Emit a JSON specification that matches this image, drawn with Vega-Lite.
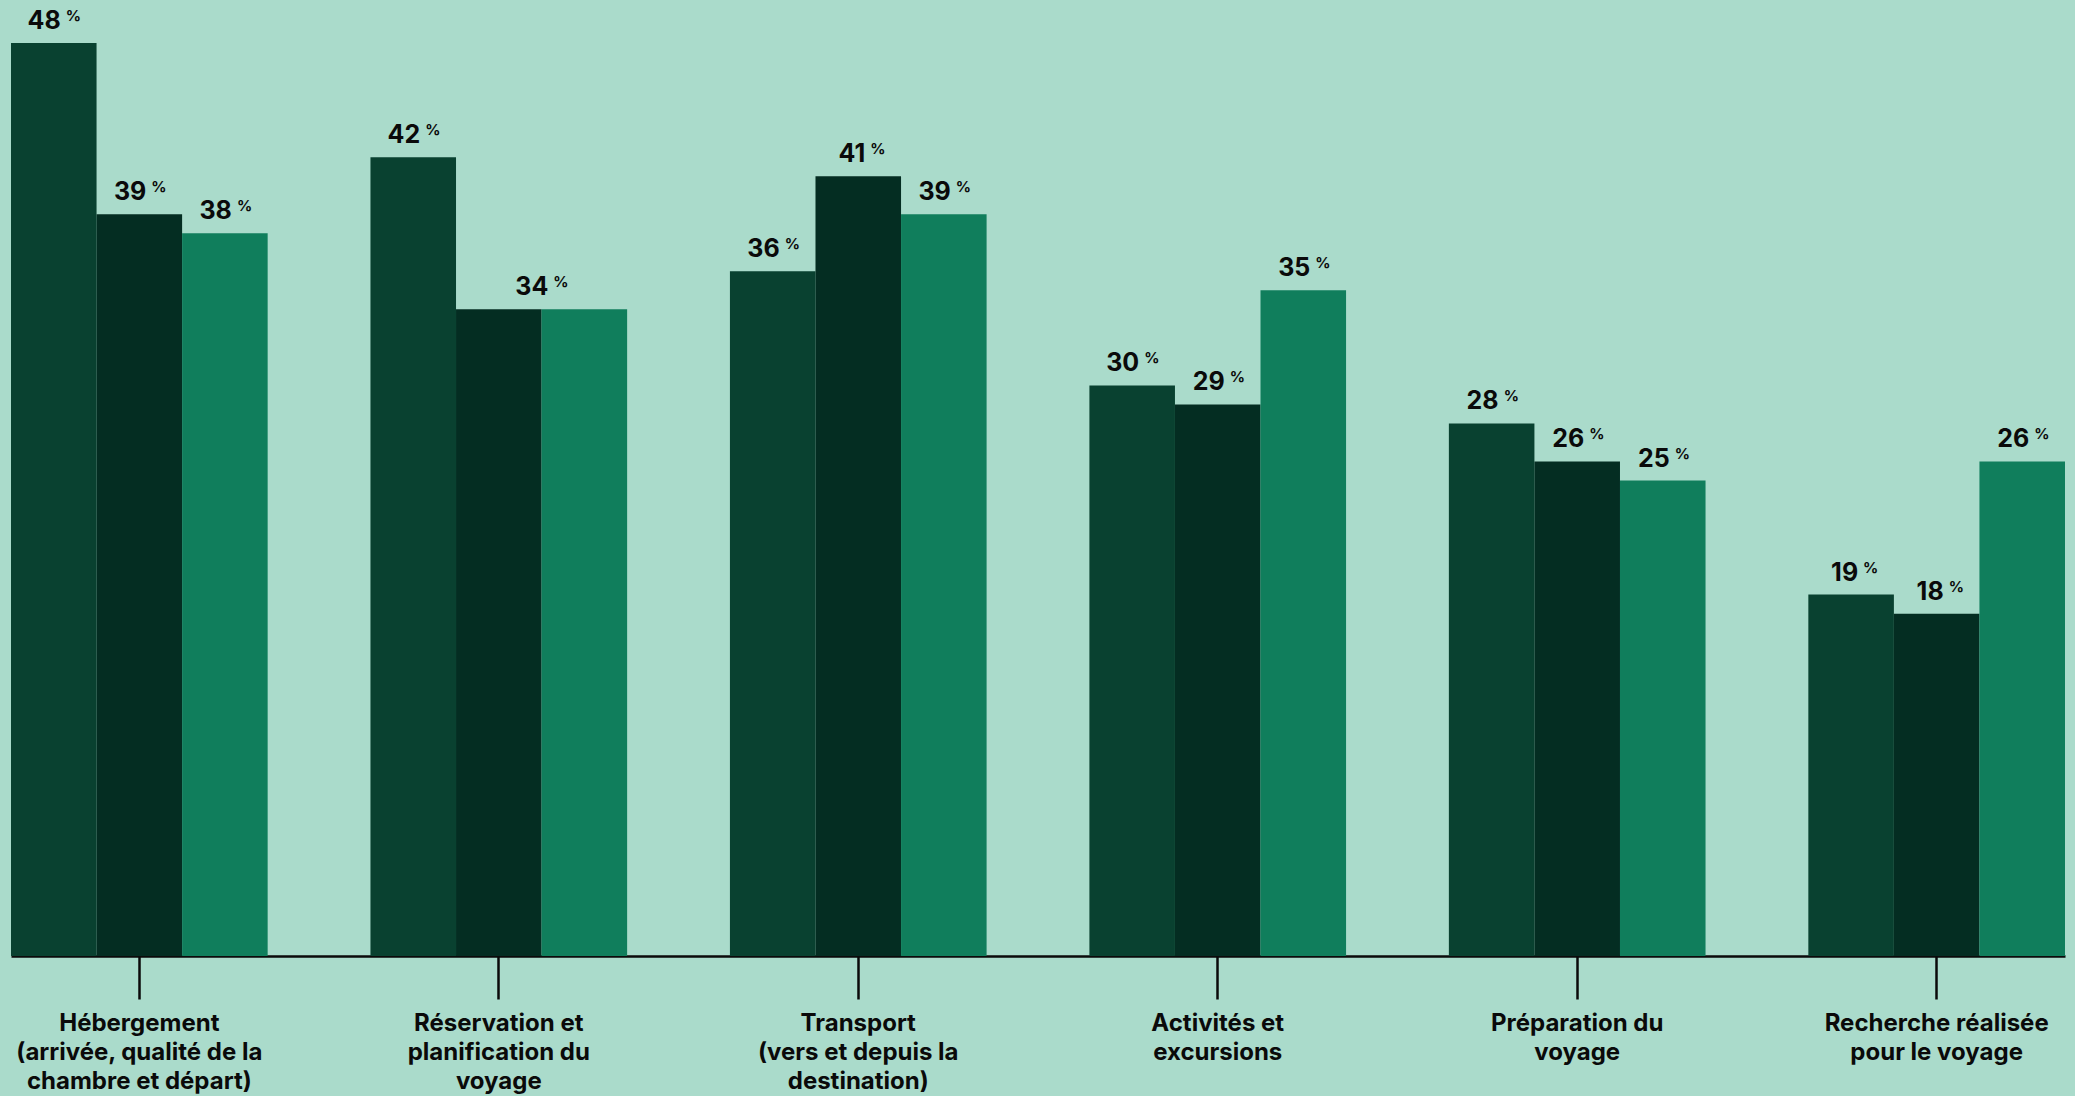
{
  "$schema": "https://vega.github.io/schema/vega-lite/v6.json",
  "width": 2054,
  "height": 951,
  "autosize": {"type": "none"},
  "padding": {"left": 11, "top": 5, "right": 10, "bottom": 140},
  "background": "#AADBCB",
  "config": {
    "view": {"stroke": null},
    "font": "Inter"
  },
  "data": {
    "values": [
      {"categorie": "Hébergement\n(arrivée, qualité de la\nchambre et départ)", "serie": "Série 1", "valeur": 48},
      {"categorie": "Hébergement\n(arrivée, qualité de la\nchambre et départ)", "serie": "Série 2", "valeur": 39},
      {"categorie": "Hébergement\n(arrivée, qualité de la\nchambre et départ)", "serie": "Série 3", "valeur": 38},
      {"categorie": "Réservation et\nplanification du\nvoyage", "serie": "Série 1", "valeur": 42},
      {"categorie": "Réservation et\nplanification du\nvoyage", "serie": "Série 2", "valeur": 34},
      {"categorie": "Réservation et\nplanification du\nvoyage", "serie": "Série 3", "valeur": 34},
      {"categorie": "Transport\n(vers et depuis la\ndestination)", "serie": "Série 1", "valeur": 36},
      {"categorie": "Transport\n(vers et depuis la\ndestination)", "serie": "Série 2", "valeur": 41},
      {"categorie": "Transport\n(vers et depuis la\ndestination)", "serie": "Série 3", "valeur": 39},
      {"categorie": "Activités et\nexcursions", "serie": "Série 1", "valeur": 30},
      {"categorie": "Activités et\nexcursions", "serie": "Série 2", "valeur": 29},
      {"categorie": "Activités et\nexcursions", "serie": "Série 3", "valeur": 35},
      {"categorie": "Préparation du\nvoyage", "serie": "Série 1", "valeur": 28},
      {"categorie": "Préparation du\nvoyage", "serie": "Série 2", "valeur": 26},
      {"categorie": "Préparation du\nvoyage", "serie": "Série 3", "valeur": 25},
      {"categorie": "Recherche réalisée\npour le voyage", "serie": "Série 1", "valeur": 19},
      {"categorie": "Recherche réalisée\npour le voyage", "serie": "Série 2", "valeur": 18},
      {"categorie": "Recherche réalisée\npour le voyage", "serie": "Série 3", "valeur": 26}
    ]
  },
  "encoding": {
    "x": {
      "field": "categorie",
      "type": "nominal",
      "sort": null,
      "scale": {"paddingInner": 0.286, "paddingOuter": 0},
      "axis": {
        "title": null,
        "labelAngle": 0,
        "labelExpr": "split(datum.label, '\\n')",
        "labelLimit": 0,
        "labelFont": "Inter",
        "labelFontWeight": 700,
        "labelFontSize": 24,
        "labelLineHeight": 29,
        "labelColor": "#0a0a0a",
        "labelPadding": 12,
        "labelBaseline": "top",
        "domainColor": "#0a0a0a",
        "domainWidth": 2.5,
        "tickColor": "#0a0a0a",
        "tickWidth": 2.5,
        "tickSize": 43,
        "grid": false
      }
    },
    "xOffset": {"field": "serie", "type": "nominal", "scale": {"paddingInner": 0, "paddingOuter": 0}},
    "y": {
      "field": "valeur",
      "type": "quantitative",
      "scale": {"domain": [0, 50], "nice": false},
      "axis": null
    }
  },
  "layer": [
    {
      "mark": {"type": "bar"},
      "encoding": {
        "color": {
          "field": "serie",
          "type": "nominal",
          "scale": {"domain": ["Série 1", "Série 2", "Série 3"], "range": ["#094130", "#042D22", "#107E5C"]},
          "legend": null
        }
      }
    },
    {
      "transform": [{"filter": "!(indexof(datum.categorie, 'Réservation') == 0 && datum.serie != 'Série 1')"}],
      "layer": [
        {
          "mark": {"type": "text", "align": "right", "baseline": "alphabetic", "dx": 7, "dy": -14, "font": "Inter", "fontWeight": 700, "fontSize": 25, "color": "#0a0a0a"},
          "encoding": {"text": {"field": "valeur", "type": "quantitative"}}
        },
        {
          "mark": {"type": "text", "align": "left", "baseline": "alphabetic", "dx": 12, "dy": -22, "font": "Inter", "fontWeight": 700, "fontSize": 15, "color": "#0a0a0a", "text": "%"},
          "encoding": {}
        }
      ]
    },
    {
      "transform": [{"filter": "indexof(datum.categorie, 'Réservation') == 0 && datum.serie == 'Série 3'"}],
      "layer": [
        {
          "mark": {"type": "text", "align": "right", "baseline": "alphabetic", "dx": -36, "dy": -14, "font": "Inter", "fontWeight": 700, "fontSize": 25, "color": "#0a0a0a"},
          "encoding": {"text": {"field": "valeur", "type": "quantitative"}}
        },
        {
          "mark": {"type": "text", "align": "left", "baseline": "alphabetic", "dx": -31, "dy": -22, "font": "Inter", "fontWeight": 700, "fontSize": 15, "color": "#0a0a0a", "text": "%"},
          "encoding": {}
        }
      ]
    }
  ]
}
